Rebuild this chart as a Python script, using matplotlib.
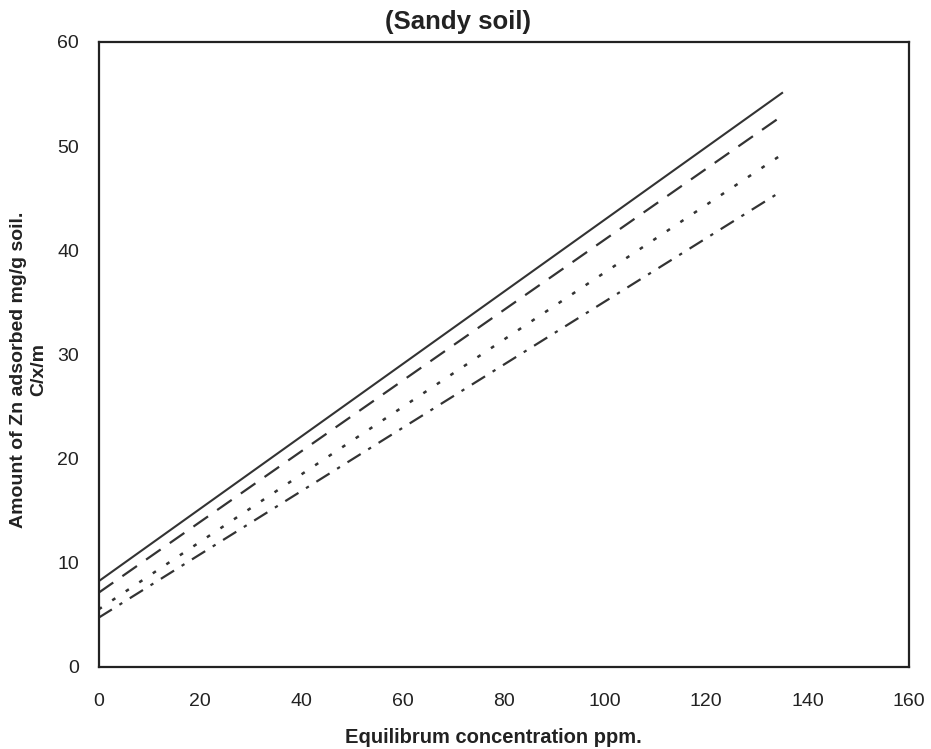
import matplotlib
matplotlib.use("Agg")
import matplotlib.pyplot as plt

plt.rcParams['font.family'] = ['Liberation Sans', 'DejaVu Sans']

x_conc = [0, 135]
solid_vals = [8.2, 55.1]
dashed_vals = [7.1, 52.9]
dotted_vals = [5.5, 49.2]
dashdot_vals = [4.7, 45.7]

x_ticks = [0, 20, 40, 60, 80, 100, 120, 140, 160]
y_ticks = [0, 10, 20, 30, 40, 50, 60]

fig = plt.figure(figsize=(9.31, 7.49), dpi=100)
ax = fig.add_axes([0.106, 0.110, 0.870, 0.834])

c = '#333333'
ax.plot(x_conc, solid_vals, color=c, lw=1.5, linestyle='-')
ax.plot(x_conc, dashed_vals, color=c, lw=1.6, linestyle=(0, (8, 5)))
ax.plot(x_conc, dotted_vals, color=c, lw=1.8, linestyle=(0, (1.5, 5)))
ax.plot(x_conc, dashdot_vals, color=c, lw=1.6, linestyle=(0, (7, 4, 1.5, 4)))

ax.set_xlim(0, 160)
ax.set_ylim(0, 60)
ax.set_xticks(x_ticks)
ax.set_yticks(y_ticks)
ax.tick_params(length=0, labelsize=14, colors='#222222')
ax.tick_params(axis='x', pad=19)
ax.tick_params(axis='y', pad=14)
for s in ax.spines.values():
    s.set_linewidth(1.6)
    s.set_color('#222222')

ax.set_xlabel('Equilibrum concentration ppm.', fontsize=14.5, fontweight='bold', color='#222222')
ax.xaxis.set_label_coords(0.487, -0.098)
ax.set_ylabel('Amount of Zn adsorbed mg/g soil.\nC/x/m', fontsize=14, fontweight='bold', color='#222222')
ax.yaxis.set_label_coords(-0.064, 0.475)
ax.set_title('(Sandy soil)', fontsize=18.5, fontweight='bold', color='#222222', x=0.443, pad=9)

fig.savefig('out.png', dpi=100)
